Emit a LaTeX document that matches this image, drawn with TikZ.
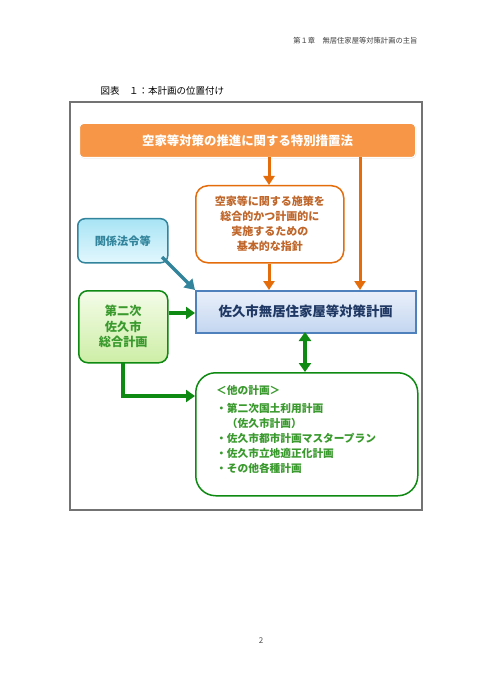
\documentclass[tikz,border=0pt]{standalone}
\usepackage{fontspec}
\setmainfont{Noto Sans CJK JP}
\newfontfamily\jp{Noto Sans CJK JP}
\usetikzlibrary{arrows.meta,shadows}
\definecolor{orfill}{HTML}{F79646}
\definecolor{ordark}{HTML}{E46C0A}
\definecolor{ortext}{HTML}{C0662A}
\definecolor{teal1}{HTML}{31849B}
\definecolor{cyantop}{HTML}{A8E4F5}
\definecolor{cyanbot}{HTML}{E2F7FD}
\definecolor{bluebd}{HTML}{4F81BD}
\definecolor{bluetop}{HTML}{C3D6F0}
\definecolor{bluebot}{HTML}{EAF0FA}
\definecolor{navy}{HTML}{1F3864}
\definecolor{grn}{HTML}{0E8A12}
\definecolor{grntext}{HTML}{3A9A2E}
\definecolor{grntop}{HTML}{CDEEA6}
\definecolor{grnbot}{HTML}{F4FCE8}
\tikzset{
  box/.style={draw, anchor=north west, inner sep=0pt, align=center},
  orarrow/.style={draw=ordark, line width=3pt, -{Triangle[width=11pt,length=9pt]}},
  grarrow/.style={draw=grn, line width=3.5pt, -{Triangle[width=12pt,length=9pt]}},
  grdouble/.style={draw=grn, line width=3.5pt, {Triangle[width=12pt,length=9pt]}-{Triangle[width=12pt,length=9pt]}},
  tlarrow/.style={draw=teal1, line width=3.5pt, -{Triangle[width=12pt,length=10pt]}},
  lbl/.style={font=\jp\bfseries}
}
\begin{document}
\begin{tikzpicture}[x=1pt,y=-1pt]
\useasboundingbox (0,0) rectangle (494,700);
\fill[white] (0,0) rectangle (494,700);
% header
\node[anchor=east, font=\jp\fontsize{7.3}{8}\selectfont, text=black!75] (hdr) at (421,41) {第１章　無居住家屋等対策計画の主旨};
\node[anchor=west, font=\jp\fontsize{9.5}{11}\selectfont] (cap) at (97,91) {図表　１：本計画の位置付け};
% frame
\draw[draw=black!55, line width=1.2pt] (70,102) rectangle (422,510);
% top orange box
\node[box, draw=white, line width=1pt, fill=orfill, rounded corners=4pt, minimum width=336pt, minimum height=34pt,
  drop shadow={shadow xshift=0.6pt, shadow yshift=-0.8pt, fill=black!25},
  lbl, text=white, font=\jp\bfseries\fontsize{12.4}{14}\selectfont] (law) at (79,123) {空家等対策の推進に関する特別措置法};
% orange outlined box
\node[box, draw=ordark, line width=1.5pt, fill=white, rounded corners=12pt, minimum width=148pt, minimum height=77pt,
  text=ortext, font=\jp\bfseries\fontsize{11}{15}\selectfont] (policy) at (195,185) {空家等に関する施策を\\総合的かつ計画的に\\実施するための\\基本的な指針};
% light blue box
\node[box, draw=teal1, line width=1.5pt, top color=cyantop, bottom color=cyanbot, rounded corners=7pt, minimum width=90pt, minimum height=44pt,
  text=teal1, font=\jp\bfseries\fontsize{11.2}{13}\selectfont] (rel) at (77,218) {関係法令等};
% main box
\node[box, draw=bluebd, line width=1.5pt, top color=bluebot, bottom color=bluetop, minimum width=220pt, minimum height=42pt,
  text=navy, font=\jp\bfseries\fontsize{13.4}{15}\selectfont] (main) at (195,290) {佐久市無居住家屋等対策計画};
% green box
\node[box, draw=grn, line width=1.5pt, top color=grnbot, bottom color=grntop, rounded corners=9pt, minimum width=89pt, minimum height=72pt,
  text=grntext, font=\jp\bfseries\fontsize{12.2}{15.5}\selectfont] (sogo) at (78,290) {第二次\\佐久市\\総合計画};
% other plans box
\node[box, draw=grn, line width=1.5pt, fill=white, rounded corners=20pt, minimum width=222pt, minimum height=123pt] (other) at (195,372) {};
\node[anchor=north west, align=left, inner sep=0pt, text=grntext, font=\jp\bfseries\fontsize{10.7}{15}\selectfont] (othertext) at (216,385)
 {＜他の計画＞\\[3pt]・第二次国土利用計画\\　（佐久市計画）\\・佐久市都市計画マスタープラン\\・佐久市立地適正化計画\\・その他各種計画};
% arrows
\coordinate (lawA) at (269,157);
\coordinate (lawB) at (360,157);
\draw[orarrow] (lawA) -- (lawA |- policy.north);
\draw[orarrow] (lawB) -- (lawB |- main.north);
\draw[orarrow] (lawA |- policy.south) -- (lawA |- main.north);
\coordinate (relC) at (162,257);
\coordinate (mainC) at (195,290);
\draw[tlarrow] (relC) -- (mainC);
\draw[grarrow] (sogo.east |- 0,313) -- (main.west |- 0,313);
\coordinate (dA) at (305,332);
\draw[grdouble] (dA) -- (dA |- other.north);
\coordinate (sogoB) at (123,362);
\draw[grarrow] (sogoB) -- (123,396) -- (other.west |- 0,396);
% page number
\node[font=\jp\fontsize{8}{9}\selectfont, text=black!70] (pg) at (261,641) {2};
\end{tikzpicture}
\end{document}
